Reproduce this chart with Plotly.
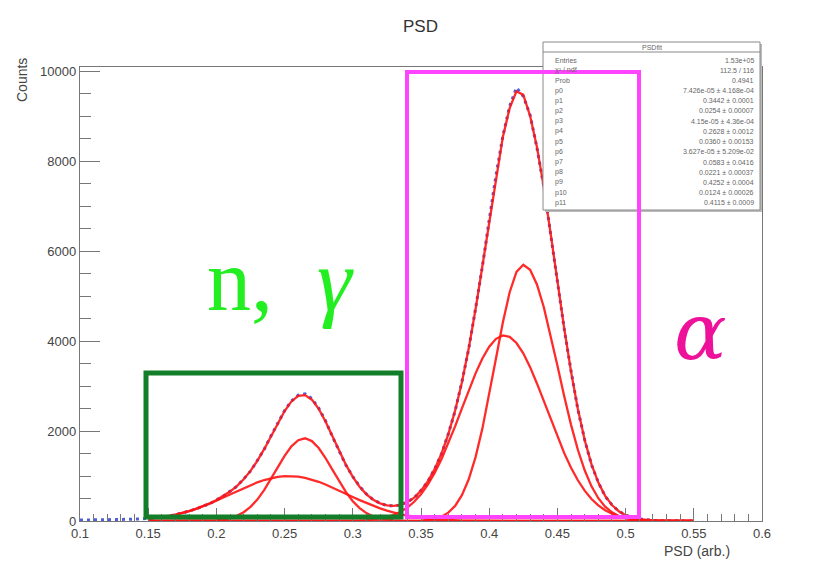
import plotly.graph_objects as go

# ---- data ----
X_FIT = [0.15, 0.155, 0.16, 0.165, 0.17, 0.175, 0.18, 0.185, 0.19, 0.195,
         0.2, 0.205, 0.21, 0.215, 0.22, 0.225, 0.23, 0.235, 0.24, 0.245,
         0.25, 0.255, 0.26, 0.265, 0.27, 0.275, 0.28, 0.285, 0.29, 0.295,
         0.3, 0.305, 0.31, 0.315, 0.32, 0.325, 0.33, 0.335, 0.34, 0.345,
         0.35, 0.355, 0.36, 0.365, 0.37, 0.375, 0.38, 0.385, 0.39, 0.395,
         0.4, 0.405, 0.41, 0.415, 0.42, 0.425, 0.43, 0.435, 0.44, 0.445,
         0.45, 0.455, 0.46, 0.465, 0.47, 0.475, 0.48, 0.485, 0.49, 0.495,
         0.5, 0.505, 0.51, 0.515, 0.52, 0.525, 0.53, 0.535, 0.54, 0.545, 0.55]

ng_broad = [49, 66, 86, 111, 142, 178, 221, 270, 325, 385,
            451, 521, 592, 664, 734, 801, 861, 912, 953, 982,
            997, 999, 986, 960, 921, 872, 813, 748, 678, 607,
            535, 465, 398, 336, 280, 230, 186, 149, 117, 91,
            70, 52, 39, 29, 21, 15, 10, 7, 5, 3,
            2, 0, 0, 0, 0, 0, 0, 0, 0, 0,
            0, 0, 0, 0, 0, 0, 0, 0, 0, 0,
            0, 0, 0, 0, 0, 0, 0, 0, 0, 0, 0]

ng_narrow = [0, 0, 0, 0, 0, 0, 0, 0, 0, 0,
             16, 33, 63, 114, 195, 314, 477, 686, 931, 1196,
             1450, 1661, 1798, 1840, 1778, 1624, 1401, 1143, 880, 641,
             441, 286, 176, 102, 56, 29, 14, 6, 3, 0,
             0, 0, 0, 0, 0, 0, 0, 0, 0, 0,
             0, 0, 0, 0, 0, 0, 0, 0, 0, 0,
             0, 0, 0, 0, 0, 0, 0, 0, 0, 0,
             0, 0, 0, 0, 0, 0, 0, 0, 0, 0, 0]

alpha_broad = [0, 0, 0, 0, 0, 0, 0, 0, 0, 0,
               0, 0, 0, 0, 0, 0, 0, 0, 0, 0,
               0, 0, 0, 0, 0, 0, 0, 0, 0, 0,
               7, 12, 20, 35, 56, 88, 136, 204, 300, 428,
               596, 808, 1067, 1373, 1722, 2105, 2505, 2905, 3285, 3615,
               3879, 4053, 4128, 4096, 3960, 3730, 3423, 3060, 2666, 2263,
               1872, 1509, 1184, 906, 675, 490, 347, 239, 161, 105,
               67, 42, 25, 15, 9, 5, 3, 2, 1, 0, 0]

alpha_narrow = [0, 0, 0, 0, 0, 0, 0, 0, 0, 0,
                0, 0, 0, 0, 0, 0, 0, 0, 0, 0,
                0, 0, 0, 0, 0, 0, 0, 0, 0, 0,
                0, 0, 0, 0, 0, 0, 0, 0, 0, 0,
                10, 22, 47, 96, 185, 335, 574, 929, 1422, 2055,
                2806, 3622, 4417, 5089, 5541, 5700, 5587, 5262, 4762, 4139,
                3457, 2775, 2139, 1585, 1128, 771, 507, 320, 194, 113,
                63, 34, 18, 9, 4, 2, 1, 0, 0, 0, 0]

total_fit = [49, 66, 86, 111, 142, 178, 221, 270, 325, 385,
             467, 554, 655, 778, 929, 1115, 1338, 1598, 1884, 2178,
             2447, 2660, 2784, 2800, 2699, 2496, 2214, 1891, 1558, 1248,
             983, 763, 594, 473, 392, 347, 336, 359, 420, 519,
             676, 882, 1153, 1498, 1928, 2455, 3089, 3841, 4712, 5673,
             6687, 7675, 8545, 9185, 9560, 9480, 9010, 8322, 7428, 6402,
             5329, 4284, 3323, 2491, 1803, 1261, 854, 559, 355, 218,
             130, 76, 43, 24, 13, 7, 4, 2, 1, 0, 0]

X_HIST = [0.1, 0.105, 0.11, 0.115, 0.12, 0.125, 0.13, 0.135, 0.14, 0.145] + X_FIT
hist_counts = [20, 25, 22, 30, 28, 33, 35, 38, 42, 45,
               52, 64, 90, 108, 145, 174, 226, 265, 330, 380,
               472, 548, 662, 770, 936, 1108, 1346, 1590, 1895, 2170,
               2455, 2668, 2800, 2830, 2720, 2510, 2230, 1880, 1570, 1240,
               990, 770, 600, 470, 398, 340, 342, 352, 428, 512,
               684, 875, 1160, 1490, 1940, 2445, 3100, 3830, 4730, 5660,
               6700, 7690, 8560, 9230, 9640, 9450, 9030, 8300, 7450, 6380,
               5350, 4270, 3340, 2480, 1810, 1250, 860, 550, 360, 215,
               135, 72, 45, 22, 14, 6, 4, 2, 1, 0, 0]

X_TICKS = [0.1, 0.15, 0.2, 0.25, 0.3, 0.35, 0.4, 0.45, 0.5, 0.55, 0.6]
X_TICK_TEXT = ["0.1", "0.15", "0.2", "0.25", "0.3", "0.35", "0.4", "0.45", "0.5", "0.55", "0.6"]
Y_TICKS = [0, 2000, 4000, 6000, 8000, 10000]
Y_TICK_TEXT = ["0", "2000", "4000", "6000", "8000", "10000"]

STAT_NAMES = ["Entries", "χ² / ndf", "Prob", "p0", "p1", "p2", "p3", "p4", "p5",
              "p6", "p7", "p8", "p9", "p10", "p11"]
STAT_VALUES = ["1.53e+05", "112.5 / 116", "0.4941",
               "7.426e-05 ± 4.168e-04", "0.3442 ± 0.0001", "0.0254 ± 0.00007",
               "4.15e-05 ± 4.36e-04", "0.2628 ± 0.0012", "0.0360 ± 0.00153",
               "3.627e-05 ± 5.209e-02", "0.0583 ± 0.0416", "0.0221 ± 0.00037",
               "0.4252 ± 0.0004", "0.0124 ± 0.00026", "0.4115 ± 0.0009"]

# ---- geometry (reference pixels) ----
W, H = 839, 562
L, R, T, B = 80, 762, 67, 521
PW, PH = R - L, B - T

def px(x):
    return (x - L) / PW

def py(y):
    return (B - y) / PH

RED = "rgba(255,20,20,0.9)"
fig = go.Figure()

fig.add_trace(go.Scatter(x=X_HIST, y=hist_counts, mode="lines",
                         line=dict(color="#4f5fd8", width=3, dash="3px,4px"),
                         hoverinfo="skip", showlegend=False))
for comp in [ng_broad, ng_narrow, alpha_broad, alpha_narrow]:
    fig.add_trace(go.Scatter(x=X_FIT, y=comp, mode="lines",
                             line=dict(color=RED, width=2.3),
                             hoverinfo="skip", showlegend=False))
fig.add_trace(go.Scatter(x=X_FIT, y=total_fit, mode="lines",
                         line=dict(color=RED, width=2.3),
                         hoverinfo="skip", showlegend=False))

AX = dict(showline=True, linecolor="#777", linewidth=1.3, mirror=True,
          showgrid=False, zeroline=False, ticks="inside",
          tickcolor="#777", tickwidth=1.2,
          tickfont=dict(family="Liberation Sans", size=13, color="#444"))

fig.update_xaxes(range=[0.1, 0.6], tickvals=X_TICKS, ticktext=X_TICK_TEXT,
                 ticklen=13,
                 minor=dict(ticks="inside", ticklen=7, dtick=0.01,
                            tickcolor="#777", tickwidth=1), **AX)
fig.update_yaxes(range=[0, 10100], tickvals=Y_TICKS, ticktext=Y_TICK_TEXT,
                 ticklen=20,
                 minor=dict(ticks="inside", ticklen=11, dtick=500,
                            tickcolor="#777", tickwidth=1), **AX)

shapes = []
ann = []

def label(text, x, y, size, color, family="Liberation Sans", xa="center", **kw):
    ann.append(dict(text=text, x=px(x), y=py(y), xref="paper", yref="paper",
                    xanchor=xa, yanchor="middle", showarrow=False,
                    font=dict(family=family, size=size, color=color), **kw))

# stats box
shapes.append(dict(type="rect", xref="paper", yref="paper",
                   x0=px(545), x1=px(762), y0=py(212), y1=py(44),
                   fillcolor="#bbb", line=dict(width=0), layer="above"))
shapes.append(dict(type="rect", xref="paper", yref="paper",
                   x0=px(543), x1=px(760), y0=py(210), y1=py(42),
                   fillcolor="white", line=dict(color="#888", width=1), layer="above"))
shapes.append(dict(type="line", xref="paper", yref="paper",
                   x0=px(543), x1=px(760), y0=py(52), y1=py(52),
                   line=dict(color="#888", width=1), layer="above"))
label("PSDfit", 652, 47, 7, "#666")
for i, (n, v) in enumerate(zip(STAT_NAMES, STAT_VALUES)):
    yy = 60 + i * 10.2
    label(n, 553, yy, 7, "#666", xa="left")
    label(v, 756, yy, 7, "#666", xa="right")

# highlight boxes
shapes.append(dict(type="rect", xref="paper", yref="paper",
                   x0=px(146), x1=px(401), y0=py(517), y1=py(373),
                   line=dict(color="#127e2a", width=5), layer="above"))
shapes.append(dict(type="rect", xref="paper", yref="paper",
                   x0=px(407), x1=px(639), y0=py(517), y1=py(72),
                   line=dict(color="#ff44ff", width=4), layer="above"))

label("n, &nbsp;<i>γ</i>", 280, 280, 88, "#22ee22", family="Liberation Serif")
label("<i>α</i>", 700, 332, 78, "#ee1199", family="DejaVu Serif")

label("PSD", 420, 26, 17, "#333")
label("Counts", 22, 80, 14, "#444", textangle=-90)
label("PSD (arb.)", 697, 551, 14, "#444")

fig.update_layout(width=W, height=H, autosize=False,
                  margin=dict(l=L, r=W - R, t=T, b=H - B, autoexpand=False),
                  paper_bgcolor="white", plot_bgcolor="white",
                  shapes=shapes, annotations=ann, showlegend=False)

fig.write_html("out.html", config={"displayModeBar": False},
               post_script="document.body.style.margin='0';document.body.style.overflow='hidden';")
